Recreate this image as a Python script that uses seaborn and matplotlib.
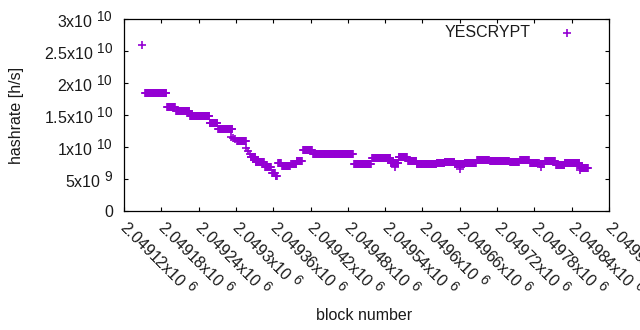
import numpy as np
import pandas as pd
import matplotlib
matplotlib.use("Agg")
import matplotlib.pyplot as plt
import seaborn as sns
try:
    import matplotlib._mathtext as _mt
    _mt.SHRINK_FACTOR = 0.85
except Exception:
    pass

# ---- data ----
# runs of consecutive blocks sharing one hashrate value (units: 1e10 h/s)
seg_start = [2049154, 2049189, 2049204, 2049226, 2049258, 2049271, 2049302, 2049324,
             2049332, 2049347, 2049358, 2049364, 2049368, 2049374, 2049389, 2049398,
             2049408, 2049424, 2049490, 2049519, 2049549, 2049562, 2049577, 2049591,
             2049623, 2049636, 2049652, 2049668, 2049688, 2049709, 2049741, 2049757,
             2049773, 2049789, 2049797, 2049815, 2049829, 2049854]
seg_end = [2049188, 2049202, 2049225, 2049257, 2049270, 2049294, 2049316, 2049331,
           2049345, 2049356, 2049363, 2049366, 2049372, 2049387, 2049397, 2049406,
           2049422, 2049488, 2049517, 2049548, 2049561, 2049575, 2049590, 2049622,
           2049635, 2049651, 2049667, 2049686, 2049707, 2049739, 2049755, 2049771,
           2049787, 2049795, 2049813, 2049828, 2049852, 2049866]
seg_value = [1.84, 1.62, 1.57, 1.48, 1.37, 1.28, 1.09, 0.85,
             0.76, 0.68, 0.59, 0.54, 0.75, 0.70, 0.73, 0.78,
             0.96, 0.886, 0.73, 0.83, 0.745, 0.84, 0.78, 0.73,
             0.745, 0.765, 0.73, 0.755, 0.80, 0.78, 0.76, 0.80,
             0.745, 0.73, 0.78, 0.72, 0.75, 0.67]
# isolated blocks
pt_block = [2049149, 2049292, 2049295, 2049299, 2049317, 2049319, 2049322,
            2049556, 2049660, 2049790, 2049853]
pt_value = [2.59, 1.16, 1.14, 1.12, 0.98, 0.93, 0.89,
            0.69, 0.65, 0.68, 0.64]

series_name = "YESCRYPT"
xticks = list(range(2049120, 2049901, 60))
yticks = [0, 0.5e10, 1.0e10, 1.5e10, 2.0e10, 2.5e10, 3.0e10]
ytick_labels = ["0", "5x10 $\\mathregular{^{9}}$", "1x10 $\\mathregular{^{10}}$",
                "1.5x10 $\\mathregular{^{10}}$", "2x10 $\\mathregular{^{10}}$",
                "2.5x10 $\\mathregular{^{10}}$", "3x10 $\\mathregular{^{10}}$"]

blocks, values = [], []
for s, e, v in zip(seg_start, seg_end, seg_value):
    for b in range(s, e + 1):
        blocks.append(b)
        values.append(v * 1e10)
for b, v in zip(pt_block, pt_value):
    blocks.append(b)
    values.append(v * 1e10)
df = pd.DataFrame({"block": blocks, "hashrate": values}).sort_values("block")

# ---- style ----
sns.set_theme(style="ticks")
plt.rcParams["font.family"] = ["Liberation Sans", "DejaVu Sans"]
plt.rcParams["mathtext.fontset"] = "custom"
plt.rcParams["mathtext.rm"] = "Liberation Sans"
plt.rcParams["mathtext.it"] = "Liberation Sans"
plt.rcParams["mathtext.bf"] = "Liberation Sans"

FS = 11.5
fig = plt.figure(figsize=(6.4, 3.3), dpi=100)
ax = fig.add_axes([124 / 640, 1 - 211 / 330, 485 / 640, 192 / 330])

color = "#9400d3"
sns.scatterplot(data=df, x="block", y="hashrate", marker="+", s=34,
                color=color, linewidth=1.2, label=series_name, ax=ax)

ax.set_xlim(2049120, 2049900)
ax.set_ylim(0, 3e10)
ax.set_xticks(xticks)
ax.set_xticklabels(["%gx10 $\\mathregular{^{6}}$" % (t / 1e6) for t in xticks])
ax.set_yticks(yticks)
ax.set_yticklabels(ytick_labels)

for sp in ax.spines.values():
    sp.set_visible(True)
    sp.set_color("black")
    sp.set_linewidth(0.9)

ax.tick_params(axis="both", which="major", direction="in", length=3.2, width=0.8,
               top=True, right=True, labelsize=FS, colors="black")
ax.tick_params(axis="y", pad=8)
ax.tick_params(axis="x", pad=9)
for lab in ax.get_xticklabels():
    lab.set_rotation(-45)
    lab.set_ha("left")
    lab.set_va("center")
    lab.set_rotation_mode("anchor")
    lab.set_color("#1a1a1a")
for lab in ax.get_yticklabels():
    lab.set_color("#1a1a1a")

ax.set_xlabel("block number", fontsize=FS, color="#1a1a1a")
ax.set_ylabel("hashrate [h/s]", fontsize=FS, color="#1a1a1a")
ax.xaxis.set_label_coords((364 - 124) / 485, (211 - 315) / 192)
ax.xaxis.label.set_va("center")
ax.yaxis.set_label_coords((17 - 124) / 485, (211 - 115) / 192)
ax.yaxis.label.set_va("center")

leg = ax.legend(loc="upper right", bbox_to_anchor=((575 - 124) / 485, 1 - (25 - 19) / 192),
                frameon=False, markerfirst=False, handlelength=1.0, handletextpad=1.75,
                borderaxespad=0, borderpad=0, fontsize=FS)
for t in leg.get_texts():
    t.set_color("#1a1a1a")

fig.savefig("out.png", dpi=100)
